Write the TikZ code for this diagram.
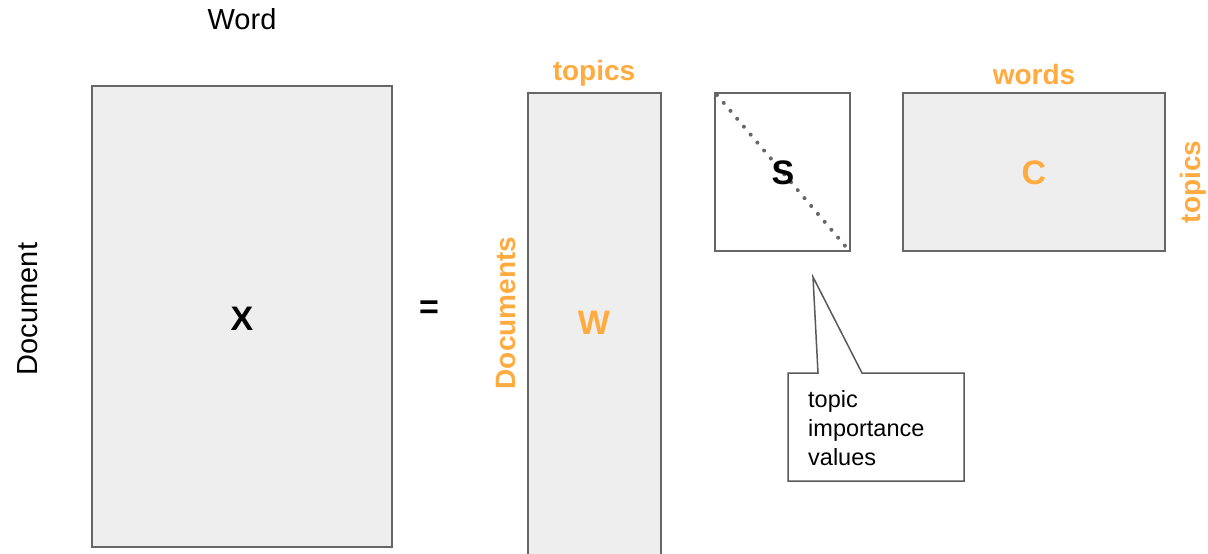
\documentclass[tikz,border=0pt]{standalone}
\usepackage{fontspec}
\setmainfont{Liberation Sans}
\definecolor{boxfill}{HTML}{EEEEEE}
\definecolor{boxline}{HTML}{666666}
\definecolor{accent}{HTML}{FFAB40}
\definecolor{calloutline}{HTML}{595959}
\begin{document}
\begin{tikzpicture}[x=1pt,y=-1pt,
  matrixbox/.style={draw=boxline,line width=2pt,fill=boxfill,rectangle,inner sep=0pt},
  plainlabel/.style={font=\fontsize{29}{34}\selectfont,inner sep=0pt},
  accentlabel/.style={font=\fontsize{28}{33}\selectfont\bfseries,text=accent,inner sep=0pt},
  symbol/.style={font=\fontsize{34}{40}\selectfont\bfseries,inner sep=0pt}]
\useasboundingbox (0,0) rectangle (1208,554);

% document-word matrix X
\node[matrixbox,minimum width=300pt,minimum height=461pt] (X) at (242,316.5) {};
\node[plainlabel] (word) at (242,19) {Word};
\node[plainlabel,rotate=90] (doc) at (28,309) {Document};
\node[symbol] (xs) at (242,319) {X};

\node[symbol] (eq) at (429,310) {=};

% document-topic matrix W
\node[matrixbox,minimum width=133pt,minimum height=462pt] (W) at (594.5,324) {};
\node[accentlabel] (wtop) at (594,73) {topics};
\node[accentlabel,rotate=90] (wleft) at (506,313) {Documents};
\node[symbol,text=accent] (ws) at (594,323) {W};

% singular values S
\node[matrixbox,fill=white,minimum width=135pt,minimum height=158pt] (S) at (782.5,172) {};
\draw[boxline,line width=4pt,line cap=round,dash pattern=on 0pt off 10.4pt]
  ([shift={(3,3)}]S.north west) -- ([shift={(-5,-5)}]S.south east);
\node[symbol] (ss) at (783,173) {S};

% topic-word matrix C
\node[matrixbox,minimum width=262pt,minimum height=158pt] (C) at (1034,172) {};
\node[accentlabel] (ctop) at (1034,74) {words};
\node[accentlabel,rotate=90] (cright) at (1193,182) {topics};
\node[symbol,text=accent] (cs) at (1034,173) {C};

% callout
\coordinate (tip) at (813,277);
\draw[calloutline,line width=1.5pt,line join=miter,fill=white]
  (818,373) -- (tip) -- (862,373) -- (964,373) -- (964,481) -- (788,481) -- (788,373) -- cycle;
\node[font=\fontsize{23.5}{29}\selectfont,align=left,anchor=north west,inner sep=0pt] (note) at (808,390)
  {topic\\importance\\values};
\end{tikzpicture}
\end{document}
